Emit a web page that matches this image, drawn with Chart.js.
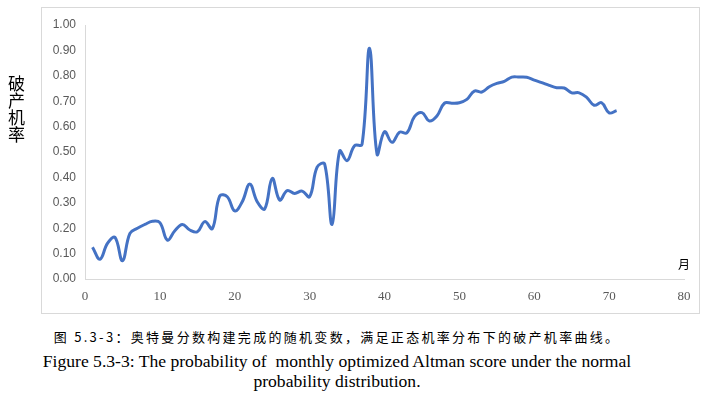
<!DOCTYPE html>
<html>
<head>
<meta charset="utf-8">
<script src="https://cdn.jsdelivr.net/npm/chart.js@4"></script>
<style>
  body{ margin:0; background:#fff; width:710px; height:393px; overflow:hidden; position:relative; }
  #wrap{ position:absolute; left:0; top:0; width:710px; height:320px; }
  .ytitle{ position:absolute; left:8px; top:74px; font:17px "Noto Sans CJK SC"; line-height:17px; width:18px; color:#000; }
  .xtitle{ position:absolute; left:678px; top:258px; font:12px "Noto Sans CJK SC"; line-height:12px; color:#000; }
  .cap{ position:absolute; left:0; width:674px; text-align:center; color:#000; white-space:nowrap; }
  #capZh{ top:328px; font:13px "Noto Sans CJK SC"; letter-spacing:2.3px; line-height:18px; }
  #capEn1{ top:351px; font:17.6px "Liberation Serif"; line-height:20px; }
  #capEn2{ top:371px; font:17.6px "Liberation Serif"; line-height:20px; }
</style>
</head>
<body>

<div id="wrap"><canvas id="chart" width="710" height="320"></canvas></div>
<div class="ytitle">破<br>产<br>机<br>率</div>
<div class="xtitle">月</div>
<div class="cap" id="capZh">图 5.3-3：奥特曼分数构建完成的随机变数，满足正态机率分布下的破产机率曲线。</div>
<div class="cap" id="capEn1">Figure 5.3-3: The probability of &nbsp;monthly optimized Altman score under the normal</div>
<div class="cap" id="capEn2">probability distribution.</div>

<script>
// =========================
// DATA
// =========================

const mois = [
  1,2,3,4,5,6,7,8,9,10,
  11,12,13,14,15,16,17,18,19,20,
  21,22,23,24,25,26,27,28,29,30,
  31,32,33,34,35,36,37,38,39,40,
  41,42,43,44,45,46,47,48,49,50,
  51,52,53,54,55,56,57,58,59,60,
  61,62,63,64,65,66,67,68,69,70,
  71
];

const probaFaillite = [
  0.125,0.078,0.140,0.164,0.072,0.180,0.200,0.215,0.227,0.222,
  0.153,0.190,0.215,0.193,0.186,0.226,0.198,0.327,0.324,0.268,
  0.304,0.374,0.304,0.276,0.396,0.311,0.348,0.337,0.346,0.324,
  0.440,0.453,0.215,0.504,0.466,0.525,0.530,0.908,0.492,0.580,
  0.538,0.578,0.576,0.639,0.655,0.622,0.642,0.692,0.692,0.694,
  0.707,0.740,0.736,0.757,0.770,0.778,0.795,0.795,0.794,0.783,
  0.773,0.762,0.753,0.752,0.733,0.733,0.715,0.684,0.694,0.654,
  0.663
];

const xTicks = [0,10,20,30,40,50,60,70,80];
const yTicks = [0,0.1,0.2,0.3,0.4,0.5,0.6,0.7,0.8,0.9,1.0];

// =========================
// CHART
// =========================

// cadre gris autour du graphique
const cadre = {
  id:"cadre",
  beforeDraw(chart){
    const ctx = chart.ctx;
    ctx.save();
    ctx.strokeStyle = "#d9d9d9";
    ctx.lineWidth = 1;
    ctx.strokeRect(41.5, 7.5, 658, 306);
    ctx.restore();
  }
};

const points = mois.map((m,i) => ({x:m, y:probaFaillite[i]}));

new Chart(document.getElementById("chart"),{
  type:"line",
  data:{
    datasets:[{
      data:points,
      borderColor:"#4472C4",
      borderWidth:3,
      pointRadius:0,
      tension:0.4,
      fill:false
    }]
  },
  options:{
    responsive:false,
    animation:false,
    layout:{padding:{left:0, top:25, right:26, bottom:0}},
    plugins:{legend:{display:false}, tooltip:{enabled:false}},
    scales:{
      x:{
        type:"linear",
        min:0, max:80,
        afterBuildTicks(s){ s.ticks = xTicks.map(v => ({value:v})); },
        afterFit(s){ s.height = 41; },
        grid:{display:false, drawTicks:false},
        border:{color:"#d9d9d9", width:1},
        ticks:{
          color:"#595959",
          padding:10,
          maxRotation:0,
          font:{family:"Liberation Serif", size:13}
        }
      },
      y:{
        min:0, max:1,
        afterBuildTicks(s){ s.ticks = yTicks.map(v => ({value:v})); },
        afterFit(s){ s.width = 85; },
        grid:{display:false, drawTicks:false},
        border:{color:"#d9d9d9", width:1},
        ticks:{
          color:"#595959",
          padding:9,
          font:{family:"Liberation Sans", size:12},
          callback:v => v.toFixed(2)
        }
      }
    }
  },
  plugins:[cadre]
});
</script>
</body>
</html>
